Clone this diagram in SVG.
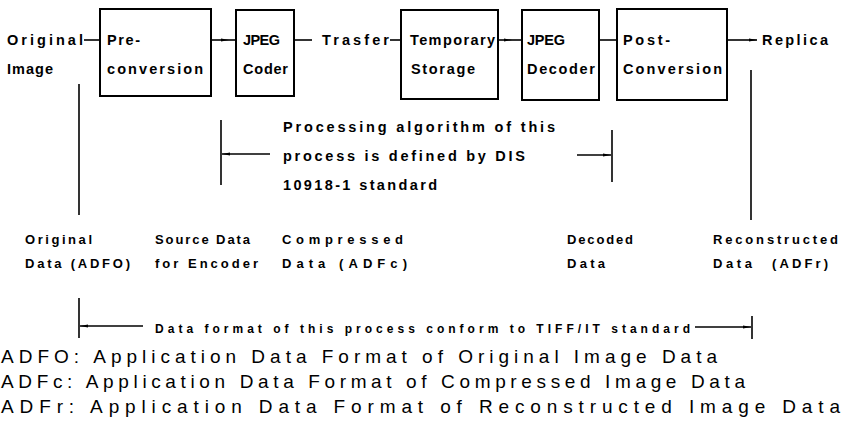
<svg xmlns="http://www.w3.org/2000/svg" width="853" height="421" viewBox="0 0 853 421">
<style>
text{font-family:"Liberation Sans",Arial,sans-serif;fill:#000;}
.t14{font-size:14.5px;font-weight:bold;}
.t12{font-size:13px;font-weight:bold;}
.t11{font-size:12px;font-weight:bold;}
.t18{font-size:19px;}
.box{fill:none;stroke:#000;stroke-width:2;}
.ln{fill:none;stroke:#000;stroke-width:1.6;}
</style>
<defs>
<marker id="ah" viewBox="0 0 8 4" refX="8" refY="2" markerWidth="8" markerHeight="4" markerUnits="userSpaceOnUse" orient="auto">
<path d="M0,0.6 L8,2 L0,3.4 Z" fill="#000"/>
</marker>
</defs>
<rect width="853" height="421" fill="#fff"/>

<g id="original-image">
<text class="t14" x="7" y="45" textLength="76" lengthAdjust="spacing">Original</text>
<text class="t14" x="7" y="74" textLength="46" lengthAdjust="spacing">Image</text>
</g>
<g id="pre-conversion">
<rect class="box" x="100" y="9" width="111" height="87"/>
<text class="t14" x="107" y="45" textLength="33" lengthAdjust="spacing">Pre-</text>
<text class="t14" x="107" y="74" textLength="96" lengthAdjust="spacing">conversion</text>
</g>
<g id="jpeg-coder">
<rect class="box" x="236" y="10" width="58" height="86"/>
<text class="t14" x="243" y="45" textLength="37" lengthAdjust="spacing">JPEG</text>
<text class="t14" x="243" y="74" textLength="45" lengthAdjust="spacing">Coder</text>
</g>
<g id="transfer">
<text class="t14" x="322" y="45" textLength="67" lengthAdjust="spacing">Trasfer</text>
</g>
<g id="temporary-storage">
<rect class="box" x="401" y="10" width="97" height="89"/>
<text class="t14" x="410" y="45" textLength="85" lengthAdjust="spacing">Temporary</text>
<text class="t14" x="411" y="74" textLength="64" lengthAdjust="spacing">Storage</text>
</g>
<g id="jpeg-decoder">
<rect class="box" x="522" y="10" width="77" height="90"/>
<text class="t14" x="527" y="45" textLength="38" lengthAdjust="spacing">JPEG</text>
<text class="t14" x="527" y="74" textLength="68" lengthAdjust="spacing">Decoder</text>
</g>
<g id="post-conversion">
<rect class="box" x="617" y="9" width="110" height="91"/>
<text class="t14" x="623" y="45" textLength="47" lengthAdjust="spacing">Post-</text>
<text class="t14" x="623" y="74" textLength="99" lengthAdjust="spacing">Conversion</text>
</g>
<g id="replica">
<text class="t14" x="762" y="45" textLength="66" lengthAdjust="spacing">Replica</text>
</g>

<g id="processing-note">
<text class="t14" x="283" y="132" textLength="272" lengthAdjust="spacing">Processing algorithm of this</text>
<text class="t14" x="283" y="161" textLength="242" lengthAdjust="spacing">process is defined by DIS</text>
<text class="t14" x="283" y="190" textLength="154" lengthAdjust="spacing">10918-1 standard</text>
</g>

<g id="data-labels">
<text class="t12" x="25" y="244" textLength="67" lengthAdjust="spacing">Original</text>
<text class="t12" x="25" y="268" textLength="105" lengthAdjust="spacing">Data (ADFO)</text>
<text class="t12" x="155" y="244" textLength="95" lengthAdjust="spacing">Source Data</text>
<text class="t12" x="155" y="268" textLength="103" lengthAdjust="spacing">for Encoder</text>
<text class="t12" x="282" y="244" textLength="121" lengthAdjust="spacing">Compressed</text>
<text class="t12" x="282" y="268" textLength="125" lengthAdjust="spacing">Data (ADFc)</text>
<text class="t12" x="567" y="244" textLength="66" lengthAdjust="spacing">Decoded</text>
<text class="t12" x="567" y="268" textLength="38" lengthAdjust="spacing">Data</text>
<text class="t12" x="713" y="244" textLength="125" lengthAdjust="spacing">Reconstructed</text>
<text class="t12" x="713" y="268"><tspan textLength="39" lengthAdjust="spacing">Data</tspan><tspan x="772" textLength="56" lengthAdjust="spacing">(ADFr)</tspan></text>
</g>

<g id="format-note">
<text class="t11" x="155" y="333" textLength="535" lengthAdjust="spacing">Data format of this process conform to TIFF/IT standard</text>
</g>

<g id="legend">
<text class="t18" x="1" y="363" textLength="716" lengthAdjust="spacing">ADFO: Application Data Format of Original Image Data</text>
<text class="t18" x="1" y="388" textLength="744" lengthAdjust="spacing">ADFc: Application Data Format of Compressed Image Data</text>
<text class="t18" x="1" y="413" textLength="839" lengthAdjust="spacing">ADFr: Application Data Format of Reconstructed Image Data</text>
</g>

<g id="connectors">
<path class="ln" d="M84,40 L100,40"/>
<path class="ln" d="M211,40 L229,40 L236,40" marker-mid="url(#ah)"/>
<path class="ln" d="M294,40 L312,40"/>
<path class="ln" d="M390,40 L401,40"/>
<path class="ln" d="M498,40 L512,40 L522,40" marker-mid="url(#ah)"/>
<path class="ln" d="M599,40 L617,40"/>
<path class="ln" d="M727,40 L757,40" marker-end="url(#ah)"/>
<path class="ln" d="M79,84 L79,215"/>
<path class="ln" d="M751,70 L751,220"/>
<path class="ln" d="M221,120 L221,185"/>
<path class="ln" d="M270,154 L222,154" marker-end="url(#ah)"/>
<path class="ln" d="M612,130 L612,182"/>
<path class="ln" d="M577,155 L611,155" marker-end="url(#ah)"/>
<path class="ln" d="M79,298 L79,338"/>
<path class="ln" d="M143,326 L80,326" marker-end="url(#ah)"/>
<path class="ln" d="M752,316 L752,339"/>
<path class="ln" d="M695,327 L751,327" marker-end="url(#ah)"/>
</g>
</svg>
